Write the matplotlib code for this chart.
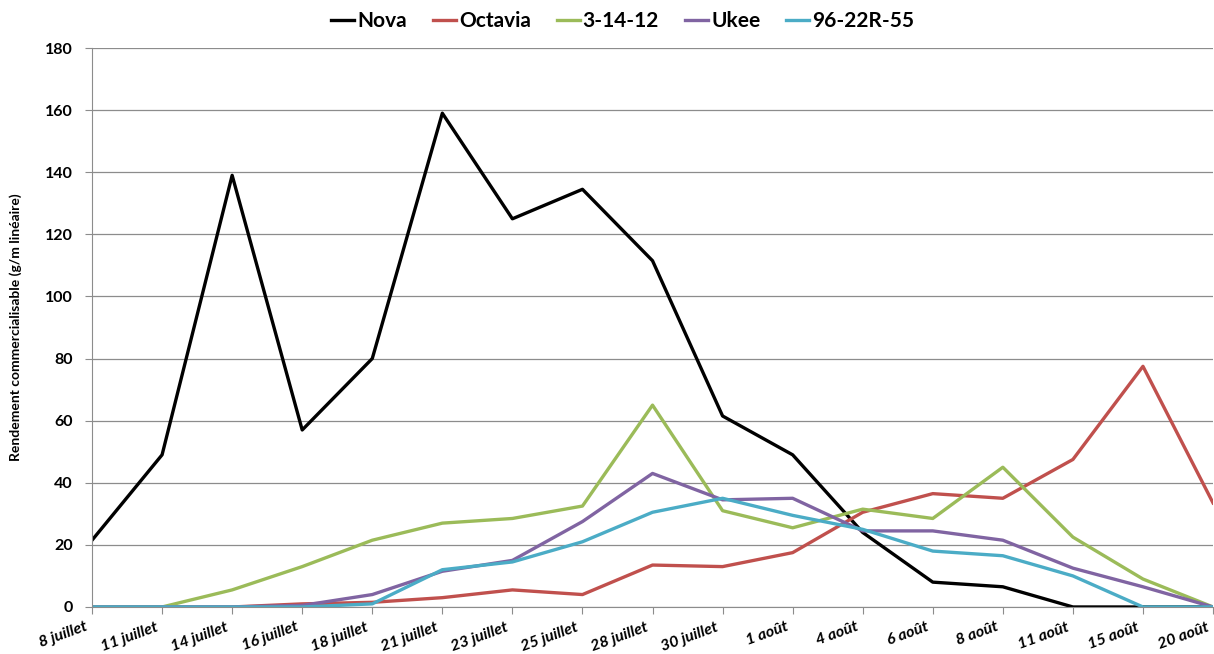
import numpy as np
import matplotlib
matplotlib.use("Agg")
import matplotlib.pyplot as plt
import matplotlib.transforms as mtransforms

# Dates de récolte (catégories)
dates = ["8 juillet", "11 juillet", "14 juillet", "16 juillet", "18 juillet",
         "21 juillet", "23 juillet", "25 juillet", "28 juillet", "30 juillet",
         "1 août", "4 août", "6 août", "8 août", "11 août", "15 août", "20 août"]

# Rendement commercialisable (g/m linéaire)
nova = [21.5, 49, 139, 57, 80, 159, 125, 134.5, 111.5, 61.5, 49, 24, 8, 6.5, 0, 0, 0]
octavia = [0, 0, 0, 1, 1.5, 3, 5.5, 4, 13.5, 13, 17.5, 30.5, 36.5, 35, 47.5, 77.5, 33.5]
v31412 = [0, 0, 5.5, 13, 21.5, 27, 28.5, 32.5, 65, 31, 25.5, 31.5, 28.5, 45, 22.5, 9, 0]
ukee = [0, 0, 0, 0.5, 4, 11.5, 15, 27.5, 43, 34.5, 35, 24.5, 24.5, 21.5, 12.5, 6.5, 0]
v9622 = [0, 0, 0, 0, 1, 12, 14.5, 21, 30.5, 35, 29.5, 25, 18, 16.5, 10, 0, 0]

series = [("Nova", nova, "#000000"),
          ("Octavia", octavia, "#c0504d"),
          ("3-14-12", v31412, "#9bbb59"),
          ("Ukee", ukee, "#8064a2"),
          ("96-22R-55", v9622, "#4bacc6")]

plt.rcParams['font.family'] = ['Lato', 'DejaVu Sans']

fig = plt.figure(figsize=(12.14, 6.54), dpi=100)
ax = fig.add_axes([0.0758, 0.0719, 0.9234, 0.8547])

x = np.arange(len(dates))
for name, vals, col in series:
    ax.plot(x, vals, color=col, lw=2.4, label=name)

ax.set_xlim(0, len(dates) - 1)
ax.set_ylim(0, 180)
ax.set_yticks(range(0, 181, 20))
ax.set_xticks(x)
ax.set_xticklabels([])

# date labels, slanted, ending just left of each tick
shift = mtransforms.ScaledTranslation(-7 / 100, -13 / 100, fig.dpi_scale_trans)
for xi, d in zip(x, dates):
    ax.text(xi, 0, d, transform=ax.get_xaxis_transform() + shift,
            rotation=20, rotation_mode="anchor", ha="right", va="top",
            fontsize=11.5, fontweight="bold", fontstyle="italic")

for lab in ax.get_yticklabels():
    lab.set_fontsize(11.5)
    lab.set_fontweight("bold")

ax.yaxis.grid(True, color="#8c8c8c", lw=0.9)
ax.set_axisbelow(True)
for s in ["top", "right"]:
    ax.spines[s].set_visible(False)
for s in ["left", "bottom"]:
    ax.spines[s].set_color("#8c8c8c")
ax.tick_params(axis="both", colors="#8c8c8c", length=5, labelcolor="black")
ax.tick_params(axis="y", pad=9)

ax.set_ylabel("Rendement commercialisable (g/m linéaire)", fontsize=10,
              fontweight="bold", labelpad=16)

fig.legend(loc="upper center", bbox_to_anchor=(0.513, 1.012), ncol=5,
           frameon=False, handlelength=1.1, handletextpad=0.15,
           columnspacing=1.25, prop={"weight": "bold", "size": 15})

fig.savefig("out.png", dpi=100)
